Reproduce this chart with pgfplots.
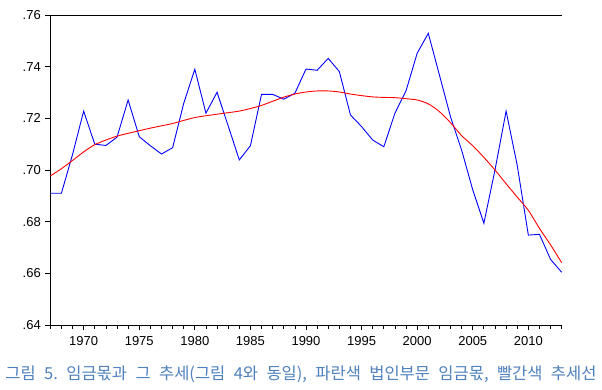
\documentclass[border=0pt]{standalone}
\usepackage{fontspec}
\setmainfont{Liberation Sans}
\newfontfamily\kr{Noto Sans CJK KR}
\usepackage{pgfplots}
\pgfplotsset{compat=1.18}
\definecolor{capblue}{RGB}{79,129,189}
\begin{document}
\begin{tikzpicture}[x=1pt,y=1pt]
\path[use as bounding box] (-50.3,-64) rectangle (551.7,325);
\begin{axis}[
  at={(0,0)}, anchor=south west,
  width=511.4pt, height=310pt, scale only axis,
  xmin=1967, xmax=2013, ymin=0.64, ymax=0.76,
  axis lines=left, axis line style={-, line width=0.8pt},
  xtick={1970,1975,...,2010},
  minor xtick={1967,...,2013},
  ytick={0.64,0.66,...,0.76},
  yticklabels={.64,.66,.68,.70,.72,.74,.76},
  xticklabel style={/pgf/number format/1000 sep={}},
  /pgf/number format/assume math mode=true,
  tick align=outside,
  major tick length=5pt, minor tick length=4pt,
  tick style={black, line width=0.7pt},
  every tick label/.append style={font=\fontsize{13}{15}\selectfont},
  xticklabel style={yshift=-3pt},
  yticklabel style={xshift=-1pt},
  clip=false,
]
\addplot[blue, line width=0.9pt] coordinates {
(1967,0.691) (1968,0.691) (1969,0.706) (1970,0.7228) (1971,0.710) (1972,0.7095)
(1973,0.7127) (1974,0.7271) (1975,0.7129) (1976,0.7094) (1977,0.7062) (1978,0.7086)
(1979,0.7258) (1980,0.739) (1981,0.722) (1982,0.7301) (1983,0.7171) (1984,0.7039)
(1985,0.7094) (1986,0.7293) (1987,0.7293) (1988,0.7274) (1989,0.7297) (1990,0.7391)
(1991,0.7386) (1992,0.7432) (1993,0.7381) (1994,0.7213) (1995,0.7168) (1996,0.7116)
(1997,0.7090) (1998,0.722) (1999,0.7307) (2000,0.7452) (2001,0.7529) (2002,0.7368)
(2003,0.7206) (2004,0.7077) (2005,0.6923) (2006,0.6794) (2007,0.700) (2008,0.7228)
(2009,0.7018) (2010,0.6748) (2011,0.6751) (2012,0.6654) (2013,0.6604)
};
\addplot[red, line width=0.9pt, smooth] coordinates {
(1967,0.6977) (1968,0.7005) (1969,0.7037) (1970,0.7070) (1971,0.7098) (1972,0.7116)
(1973,0.7131) (1974,0.7142) (1975,0.7152) (1976,0.7162) (1977,0.7171) (1978,0.7180)
(1979,0.7192) (1980,0.7203) (1981,0.7210) (1982,0.7216) (1983,0.7222) (1984,0.7228)
(1985,0.7238) (1986,0.7250) (1987,0.7266) (1988,0.7282) (1989,0.7294) (1990,0.7302)
(1991,0.7306) (1992,0.7306) (1993,0.7302) (1994,0.7294) (1995,0.7288) (1996,0.7283)
(1997,0.7281) (1998,0.7280) (1999,0.7276) (2000,0.7271) (2001,0.7256) (2002,0.7226)
(2003,0.7183) (2004,0.7133) (2005,0.7094) (2006,0.7049) (2007,0.7000) (2008,0.6947)
(2009,0.6895) (2010,0.6844) (2011,0.6774) (2012,0.6710) (2013,0.6641)
};
\draw[line width=0.8pt] (rel axis cs:0,1) -- (rel axis cs:1,1);
\end{axis}
\node[anchor=center, text=capblue, inner sep=0pt] at (250.7,-49)
  {\kr\frenchspacing\fontsize{16.5}{18}\selectfont\makebox[591pt][s]{그림 5. 임금몫과 그 추세(그림 4와 동일), 파란색 법인부문 임금몫, 빨간색 추세선}};
\end{tikzpicture}
\end{document}
